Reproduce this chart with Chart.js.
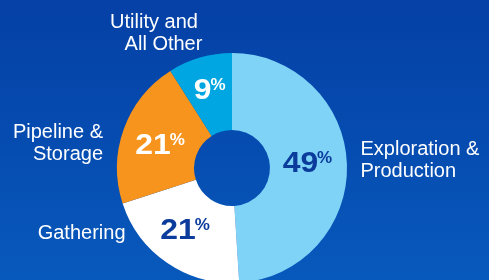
<!DOCTYPE html>
<html>
<head>
<meta charset="utf-8">
<script src="https://cdn.jsdelivr.net/npm/chart.js@4"></script>
<style>
  html, body { margin: 0; padding: 0; width: 489px; height: 280px; overflow: hidden; }
  body { background: linear-gradient(to bottom, #0540a6 0%, #064db1 55%, #0859bc 100%); }
  #wrap { position: relative; width: 489px; height: 290px; }
  canvas { display: block; }
</style>
</head>
<body>
<div id="wrap"><canvas id="pie" width="489" height="290"></canvas></div>
<script>
// segments, clockwise from 12 o'clock
const categories = ['Exploration & Production', 'Gathering', 'Pipeline & Storage', 'Utility and All Other'];
const shares = [49, 21, 21, 9];
const sliceColors = ['#7fd3f7', '#ffffff', '#f7941d', '#00a6e1'];
const numberColors = ['#0b3c9c', '#0b3c9c', '#ffffff', '#ffffff'];

// outside labels, one entry per line, offsets from the ring centre
const outerLabels = [
    { lines: ['Exploration &', 'Production'], dx: [128.5, 128.5], dy: -13, align: 'left' },
    { lines: ['Gathering'], dx: [-106.5], dy: 71, align: 'right' },
    { lines: ['Pipeline &', 'Storage'], dx: [-129, -129], dy: -30, align: 'right' },
    { lines: ['Utility and', 'All Other'], dx: [-78, -68.5], dy: -140, align: 'center' }
];
// small hand nudges for the % figures (from each arc's mid point)
const nudges = [[-1, -4], [-4, -2], [0, 2], [-1, -6]];

const FONT = '"Liberation Sans", Arial, Helvetica, sans-serif';
const SX = 1.1; // the figures in the original are a touch wider

const labelPlugin = {
    id: 'sliceLabels',
    afterDatasetsDraw(chart) {
        const ctx = chart.ctx;
        const arcs = chart.getDatasetMeta(0).data;
        const cx = arcs[0].x, cy = arcs[0].y;

        ctx.save();
        ctx.textBaseline = 'alphabetic';
        ctx.textAlign = 'left';

        // percentages inside the ring
        arcs.forEach((arc, i) => {
            const p = arc.tooltipPosition();
            const num = String(shares[i]);
            ctx.font = 'bold 29px ' + FONT;
            const wNum = ctx.measureText(num).width * SX;
            ctx.font = 'bold 17px ' + FONT;
            const wPct = ctx.measureText('%').width;
            const x = p.x + nudges[i][0] - (wNum + wPct - 1) / 2;
            const base = p.y + nudges[i][1] + 10;
            ctx.fillStyle = numberColors[i];

            ctx.save();
            ctx.translate(x, base);
            ctx.scale(SX, 1);
            ctx.font = 'bold 29px ' + FONT;
            ctx.fillText(num, 0, 0);
            ctx.restore();

            ctx.font = 'bold 17px ' + FONT;
            ctx.fillText('%', x + wNum - 1, base - 9);
        });

        // category names around the ring
        ctx.fillStyle = '#ffffff';
        ctx.font = '20px ' + FONT;
        outerLabels.forEach(l => {
            ctx.textAlign = l.align;
            l.lines.forEach((t, k) => {
                ctx.fillText(t, cx + l.dx[k], cy + l.dy + k * 22);
            });
        });
        ctx.restore();
    }
};

new Chart(document.getElementById('pie'), {
    type: 'doughnut',
    data: {
        labels: categories,
        datasets: [{
            data: shares,
            backgroundColor: sliceColors,
            borderWidth: 0
        }]
    },
    options: {
        responsive: false,
        animation: false,
        cutout: '33%',
        layout: { padding: { top: 53, left: 117, right: 142, bottom: 7 } },
        plugins: {
            legend: { display: false },
            tooltip: { enabled: false }
        }
    },
    plugins: [labelPlugin]
});
</script>
</body>
</html>
